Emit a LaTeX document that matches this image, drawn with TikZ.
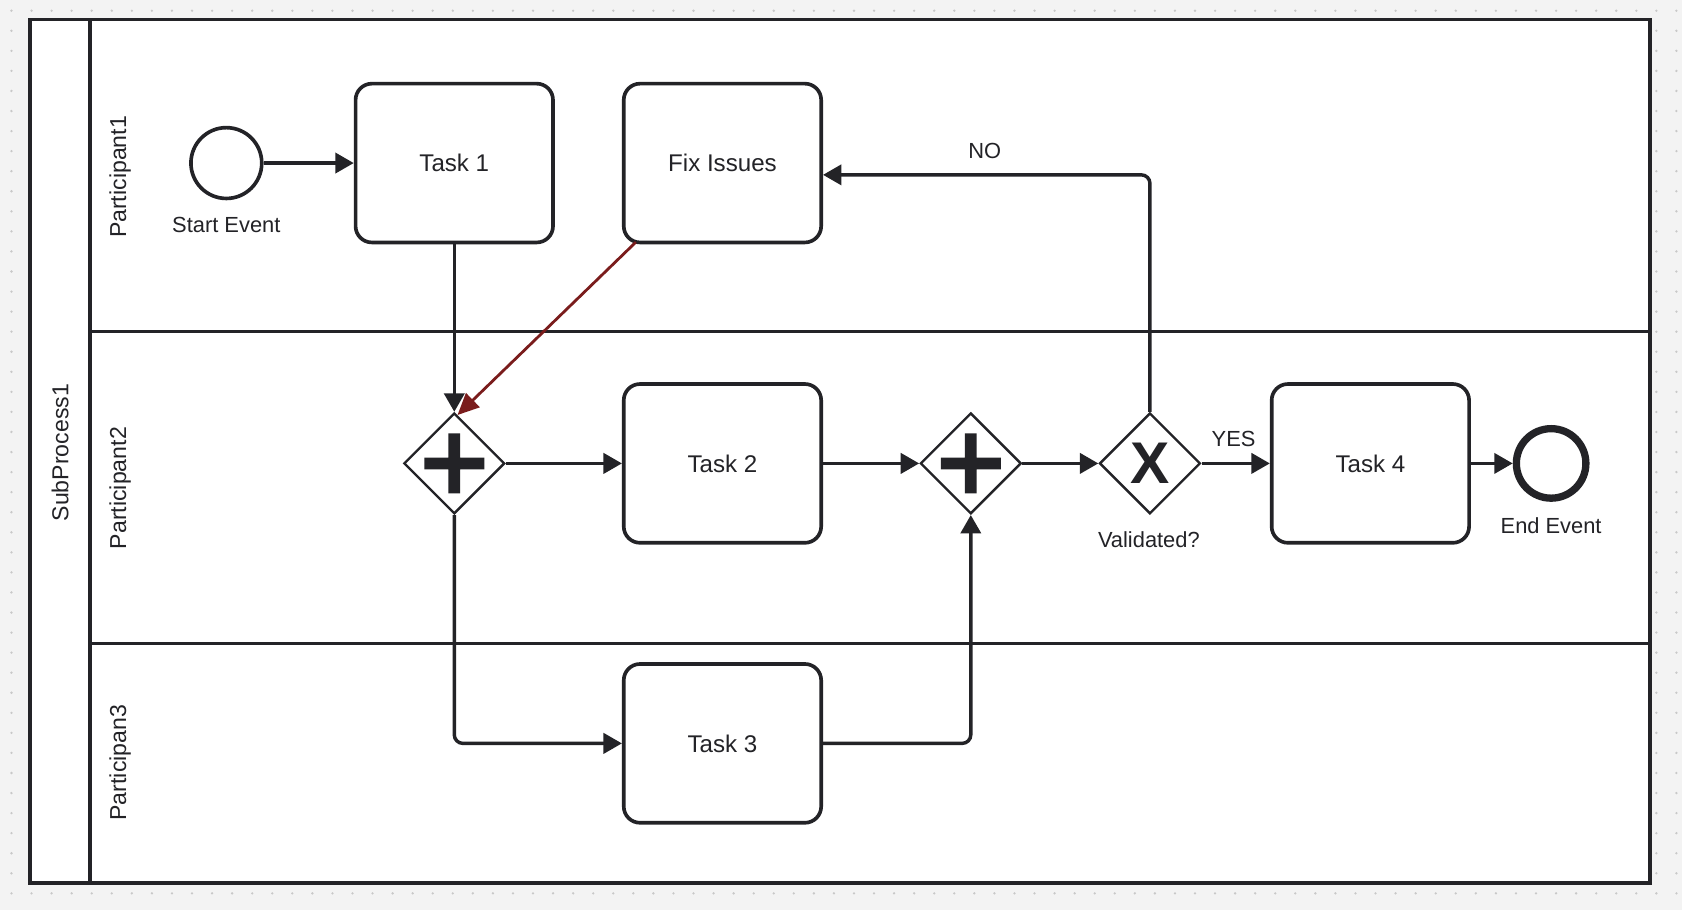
\documentclass[tikz,border=0pt]{standalone}
\usepackage{fontspec}
\setmainfont{Liberation Sans}
\usetikzlibrary{arrows.meta,shapes.geometric,calc}
\definecolor{ink}{HTML}{232327}
\definecolor{bgc}{HTML}{F3F3F3}
\definecolor{dotc}{HTML}{C8C8C8}
\definecolor{redc}{HTML}{7A1C1C}
\begin{document}
\begin{tikzpicture}[x=0.025cm,y=-0.025cm,
  font=\fontsize{14.5}{17}\selectfont,
  txt/.style={text=ink, inner sep=0pt},
  lanelabel/.style={text=ink, rotate=90, font=\fontsize{15.3}{18}\selectfont, inner sep=0pt},
  taskbox/.style={draw=ink, fill=white, line width=0.085cm, rounded corners=0.38cm, minimum width=4.6cm, minimum height=3.7cm, text=ink, inner sep=0pt, font=\fontsize{16}{19}\selectfont},
  gate/.style={draw=ink, fill=white, diamond, line width=0.055cm, minimum width=2.35cm, minimum height=2.35cm, inner sep=0pt},
  ev/.style={draw=ink, fill=white, circle, line width=0.085cm, minimum size=1.65cm, inner sep=0pt},
  flow/.style={draw=ink, line width=0.08cm, -{Triangle[length=0.43cm,width=0.47cm]}, rounded corners=0.2cm},
  frameline/.style={draw=ink, line width=0.08cm}
]
\useasboundingbox (0,0) rectangle (1568,848);
\fill[bgc] (0,0) rectangle (1568,848);
\foreach \i in {0,...,83} {
  \foreach \j in {0,...,45} {
    \fill[dotc] (10.7+18.7*\i, 10+18.7*\j) circle[radius=0.03cm];
  }
}
% pool and lanes
\draw[frameline, fill=white] (28,18) rectangle (1538,823);
\draw[frameline] (84,18) -- (84,823);
\draw[frameline] (84,309) -- (1538,309);
\draw[frameline] (84,600) -- (1538,600);
\node[lanelabel] (pool) at (56,422) {SubProcess1};
\node[lanelabel] (lane1) at (112,165) {Participant1};
\node[lanelabel] (lane2) at (112,455) {Participant2};
\node[lanelabel] (lane3) at (112,711) {Participan3};

% nodes
\node[ev] (se) at (211,152) {};
\node[txt] (sel) at (211,210) {Start Event};
\node[taskbox] (t1) at (423.5,152) {Task 1};
\node[taskbox] (fix) at (673.5,152) {Fix Issues};
\node[taskbox] (t2) at (673.5,432) {Task 2};
\node[taskbox] (t3) at (673.5,693) {Task 3};
\node[taskbox] (t4) at (1277.5,432) {Task 4};
\node[gate] (g1) at (423.5,432) {};
\node[gate] (g2) at (905,432) {};
\node[gate] (g3) at (1072,432) {};
\fill[ink, shift={(g1)}] (-28,-5.5) rectangle (28,5.5) (-5.5,-28) rectangle (5.5,28);
\fill[ink, shift={(g2)}] (-28,-5.5) rectangle (28,5.5) (-5.5,-28) rectangle (5.5,28);
\node[txt, font=\fontsize{39}{39}\selectfont\bfseries] (xmark) at (g3) {X};
\node[ev, line width=0.17cm, minimum size=1.62cm] (ee) at (1446,432) {};
\node[txt] (eel) at (1446,490) {End Event};
\node[txt] (g3l) at (1071,503) {Validated?};
\node[txt] (yes) at (1150,409) {YES};
\node[txt] (no) at (918,141) {NO};

% connectors
\draw[flow] (se) -- (t1);
\draw[flow] (t1.south) -- (g1.north);
\draw[flow] (g1.east) -- (t2.west);
\draw[flow] (g1.south) |- (t3.west);
\draw[flow] (t2.east) -- (g2.west);
\draw[flow] (t3.east) -| (g2.south);
\draw[flow] (g2.east) -- (g3.west);
\draw[flow] (g3.east) -- (t4.west);
\draw[flow] (t4.east) -- (ee.west);
\draw[flow] (g3.north) |- ($(fix.east)+(0,11)$);
\draw[flow, draw=redc, line width=0.065cm, -{Triangle[length=0.5cm,width=0.45cm]}] ($(fix.south west)+(13,-2)$) -- ($(g1.north)+(3,3)$);
\end{tikzpicture}
\end{document}
